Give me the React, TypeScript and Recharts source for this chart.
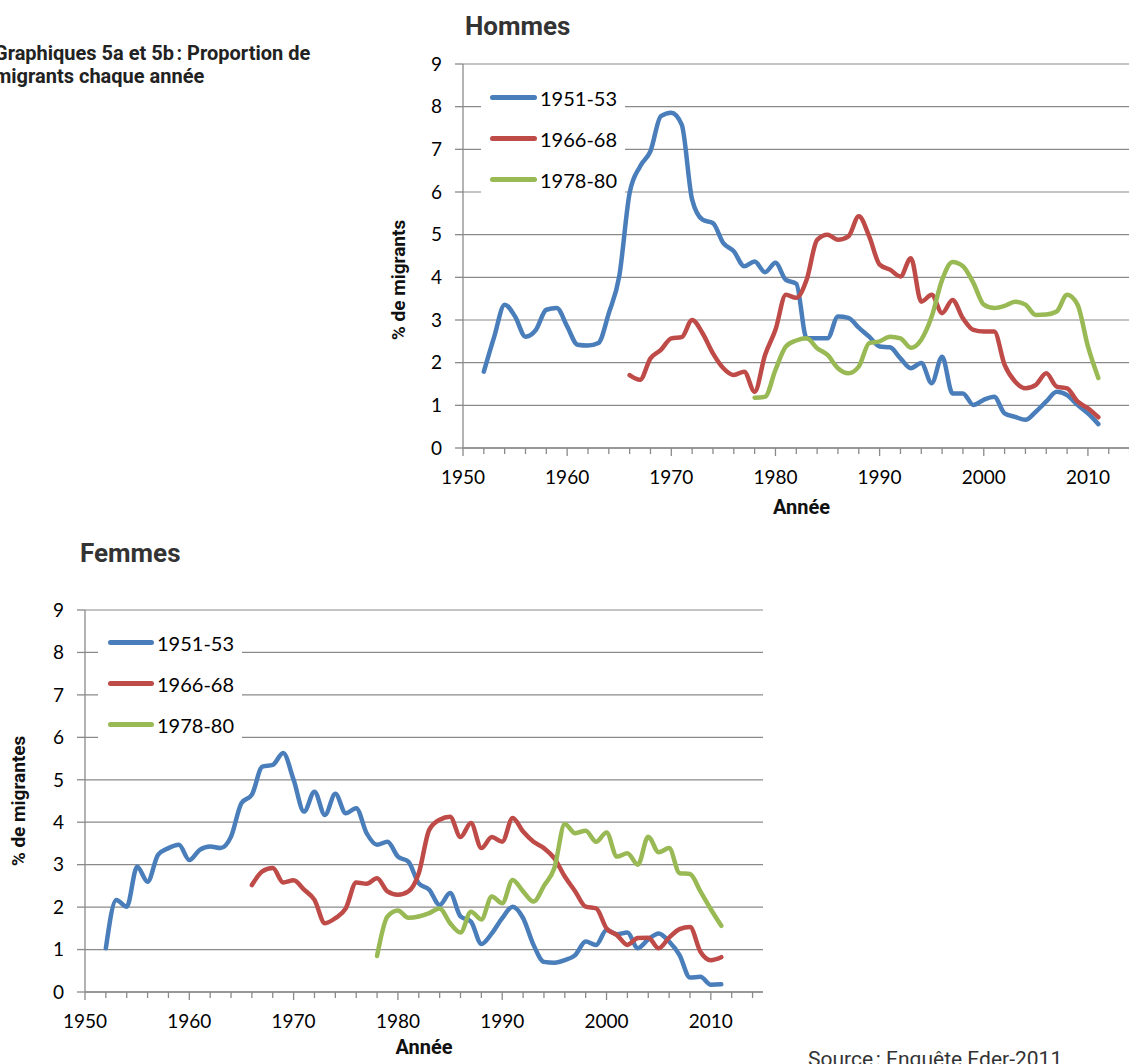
import React from "react"
import { LineChart, Line, XAxis, YAxis, CartesianGrid, Legend, Label } from "recharts"

// années observées (1952-2011)
const YEARS = [
  1952, 1953, 1954, 1955, 1956, 1957, 1958, 1959, 1960, 1961,
  1962, 1963, 1964, 1965, 1966, 1967, 1968, 1969, 1970, 1971,
  1972, 1973, 1974, 1975, 1976, 1977, 1978, 1979, 1980, 1981,
  1982, 1983, 1984, 1985, 1986, 1987, 1988, 1989, 1990, 1991,
  1992, 1993, 1994, 1995, 1996, 1997, 1998, 1999, 2000, 2001,
  2002, 2003, 2004, 2005, 2006, 2007, 2008, 2009, 2010, 2011,
]

const X_TICKS = [
  1950, 1952, 1954, 1956, 1958, 1960, 1962, 1964, 1966, 1968, 1970, 1972, 1974, 1976, 1978, 1980,
  1982, 1984, 1986, 1988, 1990, 1992, 1994, 1996, 1998, 2000, 2002, 2004, 2006, 2008, 2010, 2012, 2014,
]
const Y_TICKS = [0, 1, 2, 3, 4, 5, 6, 7, 8, 9]

const COHORTS = ["1951-53", "1966-68", "1978-80"]
const COHORT_START = [1952, 1966, 1978]
const COLORS = ["#4A7EBB", "#BE4B48", "#98B954"]

// Hommes
const hommes5153 = [
  1.79, 2.61, 3.36, 3.08, 2.61, 2.77, 3.24, 3.28, 2.85, 2.42,
  2.4, 2.46, 3.16, 4.02, 5.98, 6.6, 6.96, 7.78, 7.86, 7.58,
  5.82, 5.35, 5.27, 4.8, 4.61, 4.26, 4.37, 4.12, 4.34, 3.94,
  3.85, 2.57, 2.57, 2.57, 3.08, 3.05, 2.82, 2.61, 2.38, 2.36,
  2.1, 1.87, 1.99, 1.52, 2.14, 1.28, 1.28, 1.01, 1.13, 1.2,
  0.81, 0.73, 0.66, 0.85, 1.09, 1.32, 1.24, 1.01, 0.81, 0.56,
]
const hommes6668 = [
  1.71, 1.6, 2.1, 2.3, 2.57, 2.6, 3.0, 2.69, 2.22, 1.87,
  1.71, 1.79, 1.32, 2.18, 2.77, 3.59, 3.52, 3.95, 4.88, 5.0,
  4.88, 4.96, 5.43, 4.96, 4.3, 4.18, 4.02, 4.45, 3.43, 3.59,
  3.16, 3.47, 3.04, 2.77, 2.73, 2.73, 1.95, 1.56, 1.4, 1.48,
  1.75, 1.44, 1.4, 1.09, 0.93, 0.72,
]
const hommes7880 = [
  1.18, 1.2, 1.83, 2.38, 2.52, 2.57, 2.34, 2.18, 1.87, 1.75,
  1.91, 2.46, 2.5, 2.61, 2.57, 2.35, 2.54, 3.08, 3.94, 4.36,
  4.26, 3.87, 3.36, 3.28, 3.33, 3.43, 3.36, 3.12, 3.13, 3.2,
  3.59, 3.36, 2.38, 1.64,
]

// Femmes
const femmes5153 = [
  1.03, 2.17, 2.01, 2.95, 2.6, 3.23, 3.39, 3.47, 3.11, 3.35,
  3.43, 3.39, 3.66, 4.45, 4.65, 5.31, 5.35, 5.63, 5.0, 4.25,
  4.72, 4.17, 4.67, 4.21, 4.33, 3.74, 3.47, 3.54, 3.19, 3.07,
  2.56, 2.41, 2.05, 2.33, 1.78, 1.66, 1.13, 1.38, 1.74, 2.01,
  1.74, 1.11, 0.71, 0.69, 0.75, 0.87, 1.19, 1.11, 1.46, 1.36,
  1.4, 1.03, 1.24, 1.38, 1.19, 0.87, 0.34, 0.36, 0.17, 0.18,
]
const femmes6668 = [
  2.52, 2.84, 2.92, 2.58, 2.63, 2.41, 2.17, 1.62, 1.74, 1.97,
  2.58, 2.55, 2.68, 2.37, 2.29, 2.37, 2.8, 3.82, 4.06, 4.13,
  3.65, 3.98, 3.39, 3.65, 3.54, 4.1, 3.78, 3.54, 3.39, 3.15,
  2.72, 2.37, 2.01, 1.97, 1.5, 1.34, 1.11, 1.27, 1.28, 1.03,
  1.28, 1.48, 1.53, 0.95, 0.75, 0.82,
]
const femmes7880 = [
  0.85, 1.78, 1.92, 1.75, 1.78, 1.86, 1.97, 1.62, 1.4, 1.89,
  1.71, 2.25, 2.09, 2.64, 2.37, 2.13, 2.5, 2.92, 3.96, 3.74,
  3.8, 3.54, 3.76, 3.19, 3.27, 3.0, 3.66, 3.29, 3.39, 2.8,
  2.78, 2.37, 1.95, 1.56,
]

const AXIS = "#8a8a8a"
const TICK_FONT = "Lato, 'Open Sans', sans-serif"
const TITLE_FONT = "Roboto, sans-serif"

function buildRows(series: number[][]) {
  return YEARS.map((year) => {
    const row: Record<string, number | null> = { year }
    series.forEach((values, s) => {
      const i = year - COHORT_START[s]
      row["c" + s] = i >= 0 && i < values.length ? values[i] : null
    })
    return row
  })
}

const hommesRows = buildRows([hommes5153, hommes6668, hommes7880])
const femmesRows = buildRows([femmes5153, femmes6668, femmes7880])

function YearTick(props: any) {
  const { x, y, payload } = props
  const major = payload.value % 10 === 0
  return (
    <g>
      <line x1={x} x2={x} y1={y} y2={y + (major ? 8 : 6)} stroke={AXIS} strokeWidth={1.3} />
      {major && (
        <text x={x} y={y + 23} dy="0.71em" textAnchor="middle" fill="#000" fontSize={19} fontFamily={TICK_FONT}>
          {payload.value}
        </text>
      )}
    </g>
  )
}

function LegendBox(props: any) {
  const { payload, lineLeft, lineWidth } = props
  return (
    <div style={{ background: "#fff", width: 144 }}>
      {(payload || []).map((entry: any) => (
        <div key={entry.value} style={{ height: 41, display: "flex", alignItems: "center" }}>
          <div
            style={{
              marginLeft: lineLeft,
              width: lineWidth,
              height: 5,
              borderRadius: 3,
              background: entry.color,
            }}
          />
          <span style={{ marginLeft: 3, fontFamily: TICK_FONT, fontSize: 20, color: "#000" }}>{entry.value}</span>
        </div>
      ))}
    </div>
  )
}

function CohortChart(props: any) {
  const { rows, width, height, margin, yLabel, yLabelDx, yLabelDy, xLabelDy, legendPos } = props
  return (
    <LineChart width={width} height={height} data={rows} margin={margin}>
      <CartesianGrid vertical={false} stroke={AXIS} strokeWidth={1.2} />
      <XAxis
        dataKey="year"
        type="number"
        domain={[1950, 2015]}
        ticks={X_TICKS}
        interval={0}
        height={40}
        axisLine={{ stroke: AXIS, strokeWidth: 1.3 }}
        tickLine={false}
        tickSize={0}
        tickMargin={0}
        tick={<YearTick />}
      >
        <Label
          content={({ viewBox }: any) => (
            <text
              x={viewBox.x + viewBox.width / 2}
              y={viewBox.y + xLabelDy}
              textAnchor="middle"
              fontFamily={TITLE_FONT}
              fontWeight="bold"
              fontSize={20}
              fill="#111"
            >
              Année
            </text>
          )}
        />
      </XAxis>
      <YAxis
        type="number"
        domain={[0, 9]}
        ticks={Y_TICKS}
        interval={0}
        width={70}
        tickSize={8}
        tickMargin={13}
        axisLine={{ stroke: AXIS, strokeWidth: 1.3 }}
        tickLine={{ stroke: AXIS, strokeWidth: 1.3 }}
        tick={{ fill: "#000", fontSize: 19, fontFamily: TICK_FONT }}
      >
        <Label
          content={({ viewBox }: any) => {
            const cx = viewBox.x + yLabelDx
            const cy = viewBox.y + viewBox.height / 2 + yLabelDy
            return (
              <text
                x={cx}
                y={cy}
                transform={`rotate(-90 ${cx} ${cy})`}
                textAnchor="middle"
                dominantBaseline="central"
                fontFamily={TITLE_FONT}
                fontWeight="bold"
                fontSize={19}
                fill="#111"
              >
                {yLabel}
              </text>
            )
          }}
        />
      </YAxis>
      <Legend
        layout="vertical"
        align="center"
        verticalAlign="middle"
        wrapperStyle={{ left: legendPos.left, top: legendPos.top, width: 144 }}
        content={<LegendBox lineLeft={legendPos.lineLeft} lineWidth={legendPos.lineWidth} />}
      />
      {COHORTS.map((name, s) => (
        <Line
          key={name}
          dataKey={"c" + s}
          name={name}
          type="monotone"
          stroke={COLORS[s]}
          strokeWidth={4.5}
          strokeLinecap="round"
          strokeLinejoin="round"
          dot={false}
          activeDot={false}
          isAnimationActive={false}
        />
      ))}
    </LineChart>
  )
}

export default function App() {
  return (
    <div
      style={{
        position: "absolute",
        left: 0,
        top: 0,
        width: 1129,
        height: 1064,
        overflow: "hidden",
        background: "#fff",
      }}
    >
      <div
        style={{
          position: "absolute",
          left: -6,
          top: 42,
          width: 400,
          fontFamily: TITLE_FONT,
          fontWeight: "bold",
          fontSize: 20,
          lineHeight: "23px",
          color: "#222",
          whiteSpace: "nowrap",
        }}
      >
        Graphiques 5a et 5b&#8239;: Proportion de
        <br />
        migrants chaque année
      </div>

      <div
        style={{
          position: "absolute",
          left: 465,
          top: 11,
          fontFamily: TITLE_FONT,
          fontWeight: "bold",
          fontSize: 26,
          color: "#333",
        }}
      >
        Hommes
      </div>

      <div style={{ position: "absolute", left: 0, top: 0 }}>
        <CohortChart
          rows={hommesRows}
          width={1150}
          height={520}
          margin={{ top: 64, right: 10, bottom: 32, left: 393 }}
          yLabel="% de migrants"
          yLabelDx={5}
          yLabelDy={24}
          xLabelDy={66}
          legendPos={{ left: 481, top: 77, lineLeft: 9, lineWidth: 47 }}
        />
      </div>

      <div
        style={{
          position: "absolute",
          left: 80,
          top: 538,
          fontFamily: TITLE_FONT,
          fontWeight: "bold",
          fontSize: 26,
          color: "#333",
        }}
      >
        Femmes
      </div>

      <div style={{ position: "absolute", left: 0, top: 540 }}>
        <CohortChart
          rows={femmesRows}
          width={773}
          height={520}
          margin={{ top: 70, right: 10, bottom: 28, left: 15 }}
          yLabel="% de migrantes"
          yLabelDx={3}
          yLabelDy={0}
          xLabelDy={62}
          legendPos={{ left: 98, top: 82, lineLeft: 10, lineWidth: 46 }}
        />
      </div>

      <div
        style={{
          position: "absolute",
          left: 808,
          top: 1047,
          fontFamily: "Roboto, sans-serif",
          fontSize: 21,
          color: "#333",
          whiteSpace: "nowrap",
        }}
      >
        Source&#8239;: Enquête Eder-2011
      </div>
    </div>
  )
}
